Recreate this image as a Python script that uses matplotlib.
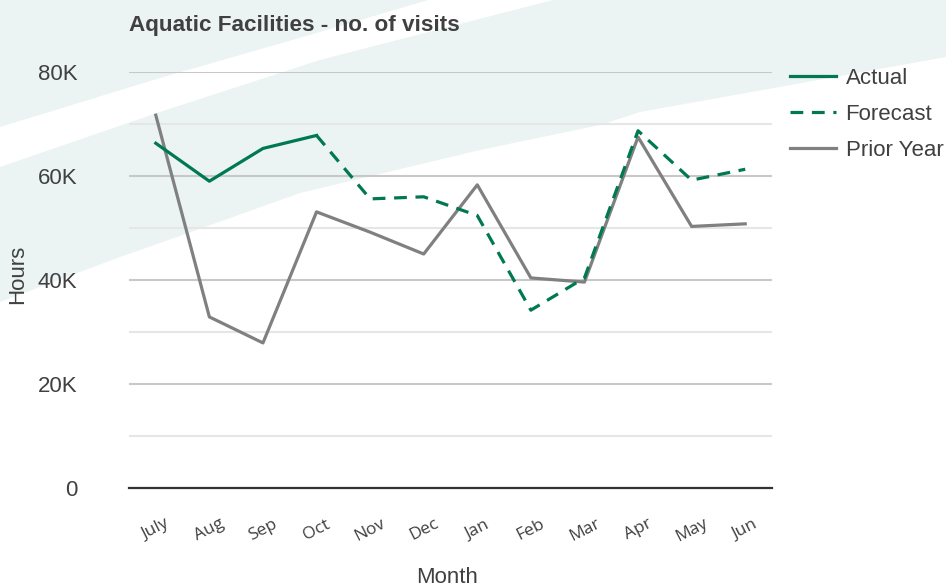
import numpy as np
import matplotlib
matplotlib.use('Agg')
import matplotlib.pyplot as plt
from matplotlib.patches import Polygon
from matplotlib.ticker import FuncFormatter, MultipleLocator

# data
months = ['July', 'Aug', 'Sep', 'Oct', 'Nov', 'Dec', 'Jan', 'Feb', 'Mar', 'Apr', 'May', 'Jun']
actual = [66300, 59000, 65300, 67800, np.nan, np.nan, np.nan, np.nan, np.nan, np.nan, np.nan, np.nan]
forecast = [np.nan, np.nan, np.nan, 67800, 55600, 56000, 52400, 34200, 40400, 68700, 59200, 61300]
prior_year = [71700, 32900, 27900, 53100, 49200, 45000, 58300, 40400, 39600, 67500, 50300, 50800]
yticks = [0, 20000, 40000, 60000, 80000]

W, H = 946, 588
GREEN = '#007850'
GREY = '#808080'
TXT = '#404040'
plt.rcParams['font.family'] = ['Liberation Sans', 'DejaVu Sans']

fig = plt.figure(figsize=(W / 100, H / 100), dpi=100)
fig.patch.set_facecolor('white')

def px(pts):
    # pixel coords (y down) -> figure fraction
    return [(x / W, 1 - y / H) for x, y in pts]

# decorative background bands, kept behind the axes
band = [(0, 0), (946, 0), (946, 57), (640, 112), (600, 125), (480, 150), (300, 193),
        (160, 243), (120, 257), (0, 302)]
stripe = [(0, 127), (160, 78), (320, 32), (428, 0), (553, 0), (320, 60), (160, 112), (0, 167)]
fig.patches.append(Polygon(px(band), closed=True, transform=fig.transFigure,
                           facecolor='#ebf3f3', edgecolor='none', zorder=-10))
fig.patches.append(Polygon(px(stripe), closed=True, transform=fig.transFigure,
                           facecolor='white', edgecolor='none', zorder=-9))

ax = fig.add_axes([129 / W, 1 - 488 / H, (772 - 129) / W, (488 - 72) / H])
ax.set_facecolor('none')

x = np.arange(len(months))
ax.plot(x, actual, color=GREEN, lw=2.3, label='Actual', zorder=4)
ax.plot(x, forecast, color=GREEN, lw=2.3, dashes=(4, 2.7), label='Forecast', zorder=4)
ax.plot(x, prior_year, color=GREY, lw=2.3, label='Prior Year', zorder=3)

ax.set_xlim(-0.5, len(months) - 0.5)
ax.set_ylim(0, 80000)
ax.set_xticks(x)
ax.set_xticklabels(months, rotation=27, ha='center', va='center', rotation_mode='anchor',
                   family=['Open Sans', 'DejaVu Sans'], fontsize=12.5, color='#404040')
ax.set_yticks(yticks)
ax.yaxis.set_minor_locator(MultipleLocator(10000))
ax.yaxis.set_major_formatter(FuncFormatter(lambda v, p: '0' if v == 0 else '%dK' % (v / 1000)))
ax.tick_params(axis='y', which='both', length=0, pad=37, labelsize=16, labelcolor=TXT)
ax.tick_params(axis='x', length=0, pad=30)

ax.grid(axis='y', which='major', color='#c8c8c8', lw=1.5)
ax.grid(axis='y', which='minor', color='#e6e6e6', lw=1.5)
ax.set_axisbelow(True)
for s in ['top', 'right', 'left']:
    ax.spines[s].set_visible(False)
ax.spines['bottom'].set_color('#333333')
ax.spines['bottom'].set_linewidth(1.6)
ax.spines['bottom'].set_zorder(5)

# axis titles and chart title placed in figure pixels
fig.text(447 / W, 1 - 583 / H, 'Month', fontsize=16, color=TXT, ha='center', va='baseline')
fig.text(18 / W, 1 - 274 / H, 'Hours', fontsize=16, color=TXT, ha='center', va='center',
         rotation=90)
fig.text(129 / W, 1 - 31 / H, 'Aquatic Facilities - no. of visits', fontsize=16.2,
         fontweight='bold', color=TXT, va='baseline', ha='left')

leg = ax.legend(loc='upper left', bbox_to_anchor=(790 / W, 1 - 68 / H),
                bbox_transform=fig.transFigure, frameon=False, fontsize=16,
                handlelength=2.05, handletextpad=0.45, labelspacing=0.68,
                borderpad=0, borderaxespad=0)
for t in leg.get_texts():
    t.set_color(TXT)

fig.savefig('out.png', dpi=100)
